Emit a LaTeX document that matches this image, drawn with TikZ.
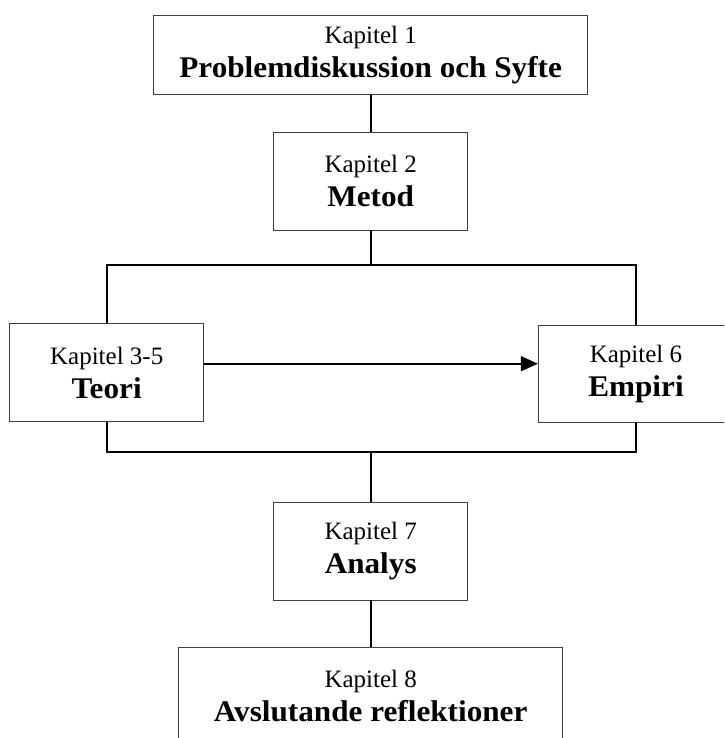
\documentclass[tikz,border=0pt]{standalone}
\usepackage{fontspec}
\setmainfont{Liberation Serif}[BoldFeatures={FakeStretch=1.04}]
\usetikzlibrary{arrows.meta}

\tikzset{
  chapter/.style={draw=black!75, line width=0.9pt, fill=white, align=center,
    inner sep=0pt, font=\fontsize{25}{34}\selectfont},
  link/.style={draw=black, line width=1.6pt},
  flow/.style={link, -{Triangle[length=17pt,width=15pt]}}
}
\newcommand{\ttl}[1]{{\fontsize{30}{34}\selectfont\bfseries #1}}

\begin{document}
\begin{tikzpicture}[x=1pt,y=-1pt]
  \useasboundingbox (0,0) rectangle (724,738);
  \clip (0,0) rectangle (724,738);

  % chapter boxes
  \node[chapter, minimum width=434pt, minimum height=79.5pt] (k1) at (370.7,55.2)
    {Kapitel 1\\\ttl{Problemdiskussion och Syfte}};
  \node[chapter, minimum width=194pt, minimum height=97.3pt] (k2) at (370.7,181.3)
    {Kapitel 2\\\ttl{Metod}};
  \node[chapter, minimum width=194pt, minimum height=98pt] (k3) at (106.7,372.7)
    {Kapitel 3-5\\\ttl{Teori}};
  \node[chapter, minimum width=195.4pt, minimum height=97pt] (k4) at (636,374.2)
    {Kapitel 6\\\ttl{Empiri}};
  \node[chapter, minimum width=193.6pt, minimum height=97.3pt] (k7) at (370.7,551.3)
    {Kapitel 7\\\ttl{Analys}};
  \node[chapter, minimum width=384.4pt, minimum height=97.3pt] (k8) at (370.7,696)
    {Kapitel 8\\\ttl{Avslutande reflektioner}};

  % junction points of the branching connectors
  \coordinate (split) at (370.7,265);
  \coordinate (merge) at (370.7,452);

  % connectors
  \draw[link] (k1.south) -- (k2.north);
  \draw[link] (k2.south) -- (split);
  \draw[link] (k3.north) |- (split) -| (k4.north);
  \draw[link] (k3.south) |- (merge) -| (k4.south);
  \draw[link] (merge) -- (k7.north);
  \draw[link] (k7.south) -- (k8.north);
  \draw[flow] (k3.east |- 0,363.7) -- (k4.west |- 0,363.7);
\end{tikzpicture}
\end{document}
